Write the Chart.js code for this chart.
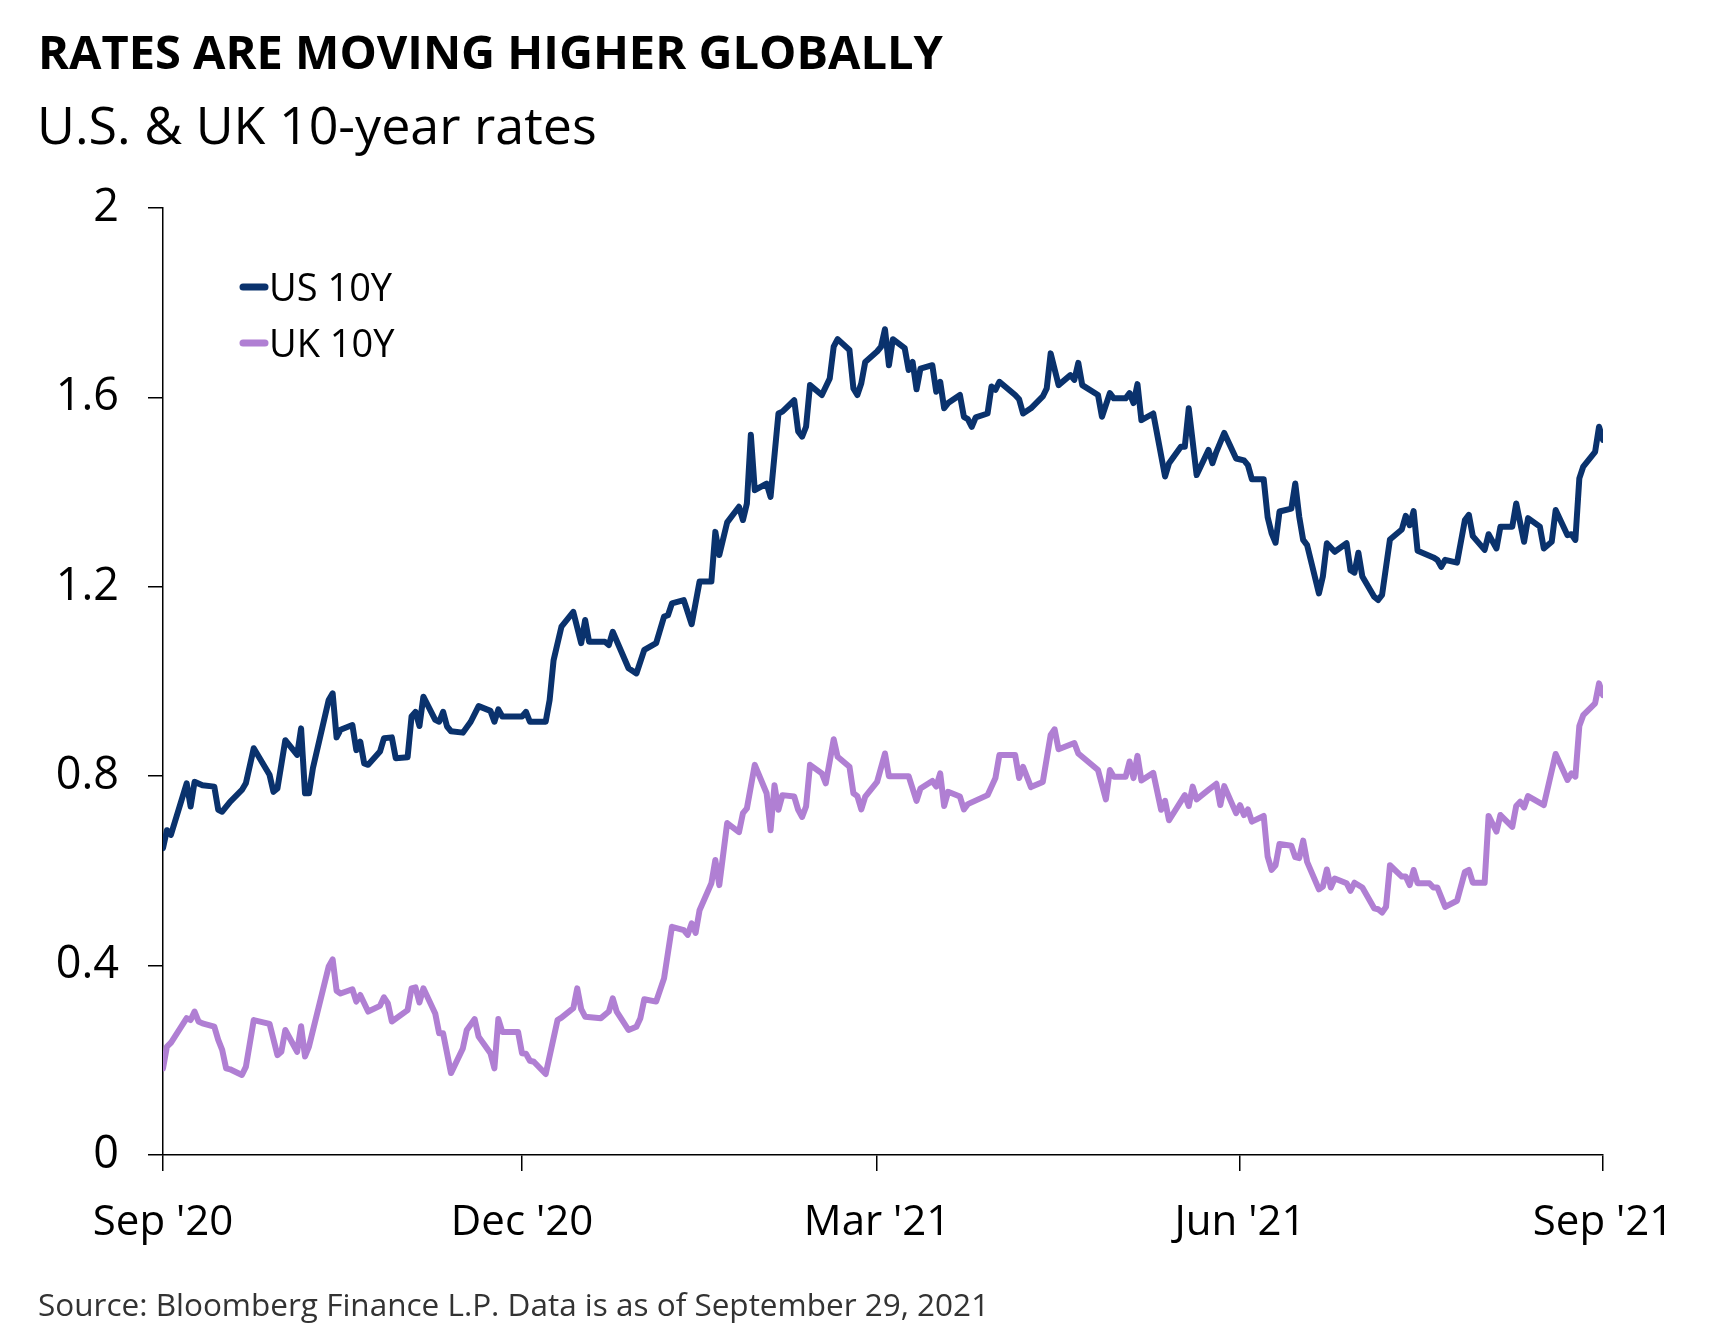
<!DOCTYPE html>
<html><head><meta charset="utf-8">
<script src="https://cdn.jsdelivr.net/npm/chart.js@4.4.0/dist/chart.umd.min.js"></script>
<style>
html,body{margin:0;padding:0;background:#fff;}
body{width:1728px;height:1344px;position:relative;overflow:hidden;font-family:"Open Sans",sans-serif;color:#000;}
#wrap{position:absolute;left:0;top:0;width:1728px;height:1344px;}
.t{position:absolute;white-space:nowrap;line-height:1;}
#title{left:38px;top:28px;font-size:47px;font-weight:700;}
#subtitle{left:37px;top:98px;font-size:52px;}
#source{left:38px;top:1288px;font-size:31.5px;color:#333;}
</style></head><body>
<div id="wrap"><canvas id="c"></canvas></div>
<div class="t" id="title">RATES ARE MOVING HIGHER GLOBALLY</div>
<div class="t" id="subtitle">U.S. &amp; UK 10-year rates</div>
<div class="t" id="source">Source: Bloomberg Finance L.P. Data is as of September 29, 2021</div>
<script>
// x = calendar days since 29 Sep 2020
const xTickDays = [0, 91, 181, 273, 365];
const xTickLabels = ["Sep '20", "Dec '20", "Mar '21", "Jun '21", "Sep '21"];
const yTickValues = [0, 0.4, 0.8, 1.2, 1.6, 2];
const yTickLabels = ["0", "0.4", "0.8", "1.2", "1.6", "2"];
const seriesLabels = ["US 10Y", "UK 10Y"];

const usDays = [0,1,2,6,7,8,10,13,14,15,17,20,21,23,27,28,29,31,34,35,36,37,38,42,43,44,45,48,49,50,51,52,55,56,58,59,62,63,64,65,66,69,70,71,72,73,76,78,80,83,84,85,86,91,92,93,97,98,99,101,104,106,107,108,112,113,114,118,120,122,125,127,128,129,132,134,136,139,140,141,143,146,147,148,149,150,153,154,156,157,160,161,162,163,164,167,169,170,171,174,175,176,177,178,181,182,183,184,185,188,189,190,191,192,195,196,197,198,199,202,203,204,205,206,209,210,211,212,216,217,218,220,223,224,225,227,230,231,232,233,237,238,240,241,244,245,246,247,248,251,254,255,258,259,260,262,265,266,267,269,272,274,275,276,279,280,281,282,283,286,287,288,289,290,293,294,295,297,300,301,302,303,304,307,308,309,311,314,315,316,317,318,322,323,324,325,328,330,331,332,335,336,338,339,342,343,345,346,349,350,352,353,356,357,358,359,360,363,364,365];
const usYield = [0.648,0.686,0.676,0.785,0.736,0.788,0.781,0.778,0.729,0.725,0.746,0.771,0.785,0.859,0.803,0.767,0.774,0.876,0.845,0.901,0.764,0.764,0.817,0.961,0.975,0.882,0.898,0.908,0.855,0.873,0.827,0.824,0.852,0.880,0.882,0.838,0.840,0.926,0.936,0.906,0.968,0.919,0.915,0.936,0.905,0.895,0.892,0.915,0.948,0.938,0.915,0.941,0.926,0.926,0.936,0.915,0.915,0.961,1.045,1.116,1.147,1.081,1.130,1.084,1.084,1.077,1.105,1.028,1.017,1.067,1.081,1.137,1.140,1.165,1.172,1.121,1.211,1.211,1.316,1.267,1.336,1.369,1.341,1.376,1.521,1.404,1.418,1.390,1.566,1.570,1.594,1.528,1.517,1.538,1.626,1.605,1.640,1.707,1.723,1.700,1.619,1.605,1.630,1.675,1.697,1.707,1.744,1.668,1.723,1.704,1.658,1.675,1.617,1.661,1.668,1.612,1.633,1.577,1.588,1.605,1.559,1.554,1.538,1.558,1.566,1.623,1.616,1.633,1.605,1.596,1.566,1.577,1.602,1.619,1.693,1.626,1.647,1.637,1.673,1.626,1.605,1.559,1.609,1.598,1.598,1.609,1.588,1.628,1.552,1.566,1.433,1.461,1.496,1.496,1.577,1.436,1.489,1.461,1.485,1.525,1.471,1.467,1.457,1.427,1.427,1.347,1.313,1.293,1.359,1.365,1.418,1.348,1.299,1.288,1.186,1.222,1.292,1.274,1.292,1.235,1.230,1.272,1.222,1.179,1.172,1.183,1.300,1.321,1.350,1.330,1.360,1.276,1.262,1.257,1.242,1.257,1.251,1.341,1.352,1.307,1.278,1.311,1.281,1.327,1.327,1.376,1.295,1.345,1.327,1.281,1.295,1.362,1.309,1.311,1.299,1.429,1.454,1.485,1.538,1.510];

const ukDays = [0,1,2,6,7,8,9,10,13,14,15,16,17,20,21,23,27,29,30,31,34,35,36,37,42,43,44,45,48,49,50,52,55,56,57,58,62,63,64,65,66,69,70,71,73,76,77,79,80,83,84,85,86,90,91,92,93,94,97,100,101,104,105,106,107,111,113,114,115,118,120,121,122,125,127,129,132,133,134,135,136,139,140,141,143,146,147,148,150,153,154,155,156,157,160,161,162,163,164,167,168,170,171,174,175,176,177,178,181,183,184,189,191,192,195,196,197,198,199,202,203,204,209,211,212,216,217,218,220,223,225,226,227,231,232,237,239,240,241,244,245,246,247,248,251,253,254,255,259,260,261,262,265,267,268,269,272,273,274,275,276,279,280,281,282,283,286,287,288,289,290,293,294,295,296,297,300,301,302,304,307,308,309,310,311,314,315,316,317,318,321,322,323,325,328,330,331,332,335,336,338,339,342,343,344,345,346,350,353,356,357,358,359,360,363,364,365];
const ukYield = [0.183,0.229,0.237,0.289,0.285,0.303,0.282,0.278,0.271,0.243,0.222,0.183,0.181,0.169,0.186,0.285,0.277,0.211,0.218,0.264,0.218,0.272,0.208,0.229,0.398,0.413,0.347,0.341,0.350,0.324,0.338,0.303,0.315,0.333,0.320,0.282,0.306,0.352,0.354,0.322,0.352,0.299,0.257,0.257,0.173,0.225,0.264,0.287,0.250,0.215,0.183,0.287,0.260,0.260,0.215,0.214,0.199,0.197,0.171,0.285,0.290,0.310,0.352,0.308,0.292,0.289,0.303,0.331,0.303,0.264,0.271,0.289,0.329,0.324,0.373,0.482,0.475,0.465,0.489,0.469,0.517,0.574,0.623,0.570,0.701,0.682,0.722,0.732,0.824,0.764,0.686,0.781,0.729,0.760,0.757,0.729,0.714,0.736,0.824,0.806,0.785,0.878,0.841,0.820,0.764,0.758,0.730,0.757,0.788,0.848,0.800,0.800,0.748,0.774,0.790,0.778,0.806,0.737,0.767,0.757,0.730,0.741,0.760,0.796,0.845,0.845,0.796,0.820,0.777,0.788,0.887,0.899,0.857,0.870,0.848,0.813,0.751,0.813,0.799,0.799,0.831,0.796,0.843,0.791,0.807,0.729,0.748,0.707,0.760,0.737,0.778,0.751,0.771,0.784,0.739,0.779,0.722,0.739,0.718,0.730,0.704,0.716,0.630,0.602,0.612,0.657,0.653,0.629,0.627,0.664,0.619,0.561,0.567,0.603,0.565,0.584,0.574,0.558,0.575,0.565,0.521,0.519,0.512,0.524,0.612,0.588,0.588,0.570,0.602,0.574,0.574,0.565,0.565,0.524,0.537,0.598,0.602,0.575,0.575,0.716,0.683,0.718,0.693,0.737,0.746,0.734,0.758,0.739,0.847,0.792,0.806,0.799,0.906,0.929,0.954,0.996,0.971];

const US_COLOR = '#0a326d';
const UK_COLOR = '#b07fd3';

const toPoints = (xs, ys) => xs.map((x, i) => ({x: x, y: ys[i]}));

const fixedLegend = {
  id: 'fixedLegend',
  afterDraw(chart) {
    const {ctx, chartArea} = chart;
    ctx.save();
    chart.data.datasets.forEach((ds, i) => {
      const y = chartArea.top + 79 + i * 56;
      ctx.strokeStyle = ds.borderColor;
      ctx.lineWidth = 7;
      ctx.lineCap = 'round';
      ctx.beginPath();
      ctx.moveTo(chartArea.left + 80, y);
      ctx.lineTo(chartArea.left + 102, y);
      ctx.stroke();
      ctx.fillStyle = '#000';
      ctx.font = '38px "Open Sans"';
      ctx.textBaseline = 'alphabetic';
      ctx.textAlign = 'left';
      ctx.fillText(ds.label, chartArea.left + 106, y + 14);
    });
    ctx.restore();
  }
};

const xFont = {family: "'Open Sans'", size: 42};
const yFont = {family: "'Open Sans'", size: 45};

new Chart(document.getElementById('c'), {
  type: 'line',
  data: {
    datasets: [
      {label: seriesLabels[0], data: toPoints(usDays, usYield), borderColor: US_COLOR, backgroundColor: US_COLOR,
       borderWidth: 6, pointRadius: 0, tension: 0, borderJoinStyle: 'round', borderCapStyle: 'round', fill: false},
      {label: seriesLabels[1], data: toPoints(ukDays, ukYield), borderColor: UK_COLOR, backgroundColor: UK_COLOR,
       borderWidth: 6, pointRadius: 0, tension: 0, borderJoinStyle: 'round', borderCapStyle: 'round', fill: false}
    ]
  },
  options: {
    responsive: true,
    maintainAspectRatio: false,
    animation: false,
    events: [],
    layout: {padding: {top: 208, right: 125, bottom: 0, left: 0}},
    plugins: {legend: {display: false}, tooltip: {enabled: false}, title: {display: false}},
    scales: {
      x: {
        type: 'linear', min: 0, max: 365,
        afterBuildTicks: (s) => { s.ticks = xTickDays.map(v => ({value: v})); },
        afterFit: (s) => { s.height = 189; },
        ticks: {autoSkip: false, maxRotation: 0, minRotation: 0, padding: 27, color: '#000', font: xFont,
                callback: (v, i) => xTickLabels[i]},
        grid: {drawOnChartArea: false, drawTicks: true, tickLength: 16, color: '#000', lineWidth: 1.5},
        border: {display: true, color: '#000', width: 1.5}
      },
      y: {
        type: 'linear', min: 0, max: 2,
        afterBuildTicks: (s) => { s.ticks = yTickValues.map(v => ({value: v})); },
        afterFit: (s) => { s.width = 163; },
        ticks: {padding: 29, color: '#000', font: yFont,
                callback: (v, i) => yTickLabels[i]},
        grid: {drawOnChartArea: false, drawTicks: true, tickLength: 15, color: '#000', lineWidth: 1.5},
        border: {display: true, color: '#000', width: 1.5}
      }
    }
  },
  plugins: [fixedLegend]
});
</script>
</body></html>
